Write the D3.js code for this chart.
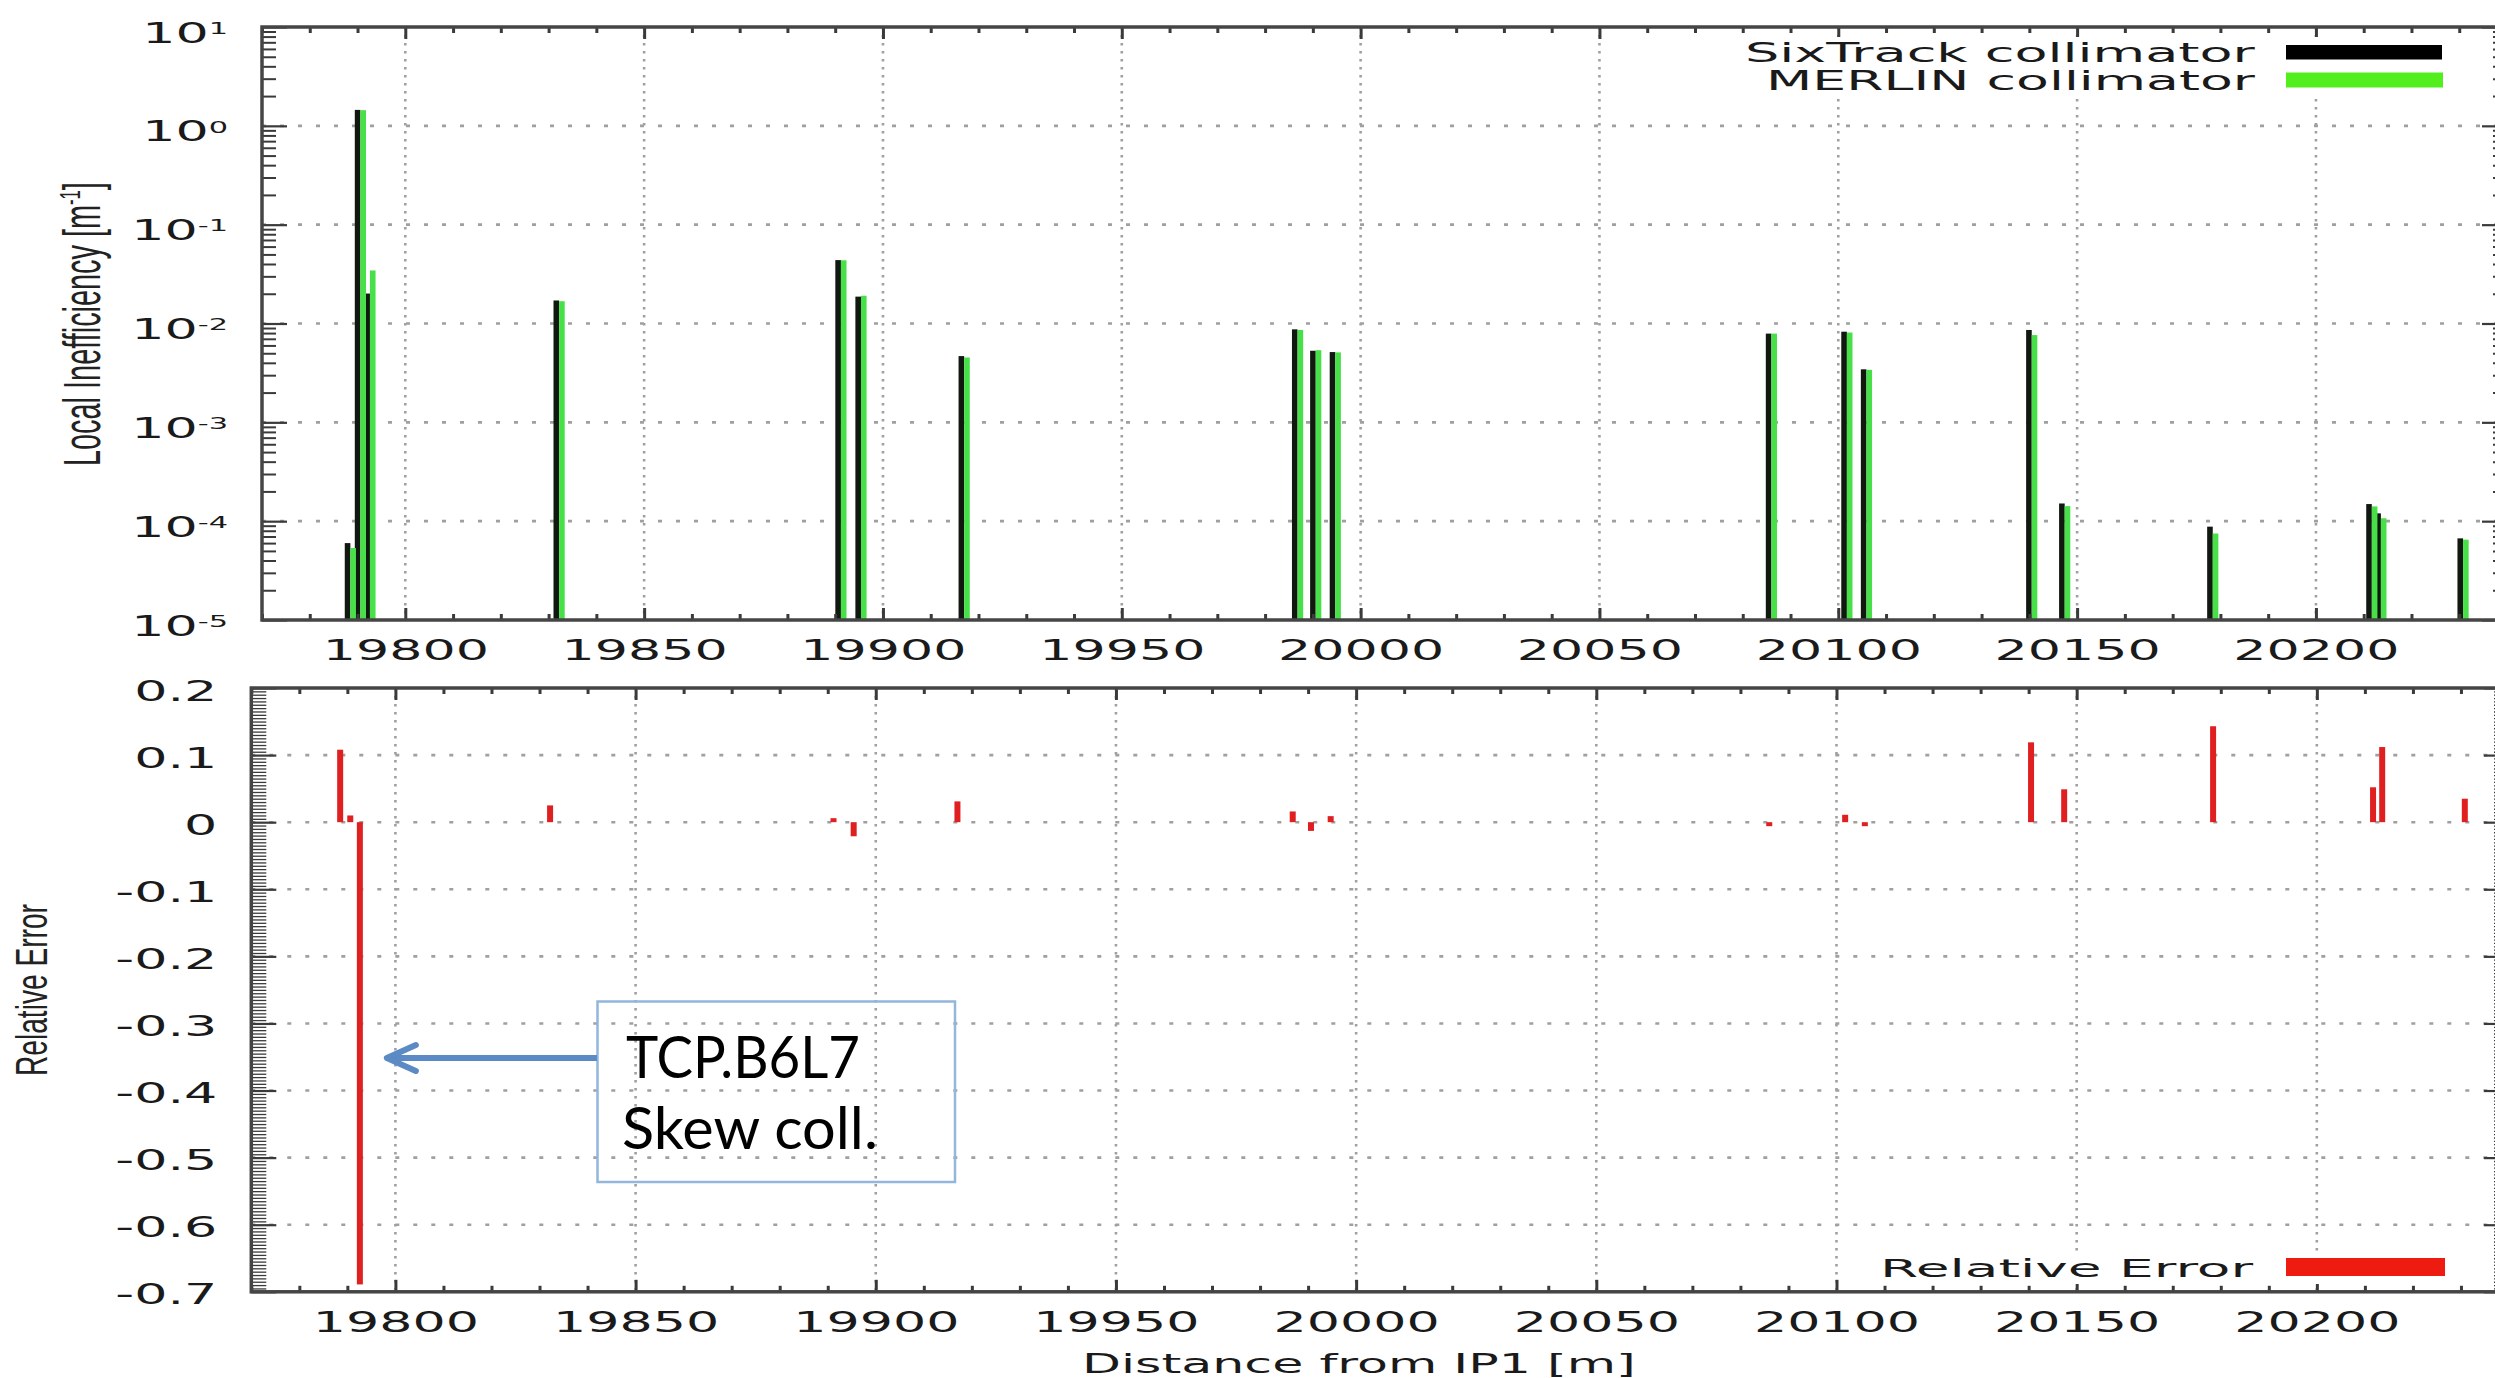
<!DOCTYPE html>
<html><head><meta charset="utf-8">
<script src="https://cdn.jsdelivr.net/npm/d3@7"></script>
<style>body{margin:0;background:#fff}svg{display:block}</style>
</head><body>
<svg id="c" width="2495" height="1378"></svg>
<script>
// ---------------- data ----------------
const positions = [19788.5, 19790.6, 19792.6, 19832.2, 19891.2, 19895.4, 19917.0, 19986.8, 19990.6, 19994.7, 20086.0, 20101.8, 20105.9, 20140.5, 20147.4, 20178.4, 20211.7, 20213.6, 20230.8];
const sixtrack  = [6.0e-5, 1.45, 0.0201, 0.0171, 0.0438, 0.0187, 0.00468, 0.00873, 0.0053, 0.00514, 0.0079, 0.00826, 0.00344, 0.0086, 1.51e-4, 8.8e-5, 1.49e-4, 1.2e-4, 6.7e-5];
const merlin    = [5.35e-5, 1.44, 0.0344, 0.0168, 0.0436, 0.0191, 0.00453, 0.0086, 0.00537, 0.0051, 0.0079, 0.0081, 0.0034, 0.00764, 1.42e-4, 7.5e-5, 1.41e-4, 1.07e-4, 6.5e-5];
const relError  = [0.108, 0.010, -0.689, 0.025, 0.004, -0.021, 0.031, 0.016, -0.013, 0.009, -0.003, 0.011, -0.003, 0.119, 0.049, 0.143, 0.052, 0.112, 0.035];

const xDomain = [19770, 20240];
const xTicks = [19800, 19850, 19900, 19950, 20000, 20050, 20100, 20150, 20200];
const xTickLabels = ["19800", "19850", "19900", "19950", "20000", "20050", "20100", "20150", "20200"];
const topYTicks = [1e-5, 1e-4, 1e-3, 1e-2, 1e-1, 1, 10];
const topYTickBase = "10";
const topYTickExp = ["-5", "-4", "-3", "-2", "-1", "0", "1"];
const botYTicks = [0.2, 0.1, 0, -0.1, -0.2, -0.3, -0.4, -0.5, -0.6, -0.7];
const botYTickLabels = ["0.2", "0.1", "0", "-0.1", "-0.2", "-0.3", "-0.4", "-0.5", "-0.6", "-0.7"];
const seriesNames = ["SixTrack collimator", "MERLIN collimator"];
const errName = "Relative Error";
const xTitle = "Distance from IP1 [m]";
const yTitleTop = ["Local Inefficiency [m", "-1", "]"];
const yTitleBot = "Relative Error";
const noteLines = ["TCP.B6L7", "Skew coll."];

// ---------------- setup ----------------
const svg = d3.select("#c");
svg.append("rect").attr("width", 2495).attr("height", 1378).attr("fill", "#fff");
const FONT = "'DejaVu Sans', sans-serif";
const K = 1.9;          // horizontal stretch of the plot's text
const TFS = 27.5;       // tick label font size
const GRID = "#a0a0a0";
const AX = "#3a3a3a";

const xT = d3.scaleLinear().domain(xDomain).range([262, 2507]);
const yT = d3.scaleLog().domain([1e-5, 10]).range([620, 27]);
const xB = d3.scaleLinear().domain(xDomain).range([251.3, 2509]);
const yB = d3.scaleLinear().domain([-0.7, 0.2]).range([1291.8, 688]);

const xMinor = d3.range(xDomain[0], xDomain[1] + 1, 10).filter(v => v % 50 !== 0);
const topYMinor = [];
for (let e = -5; e < 1; e++) for (let m = 2; m <= 9; m++) topYMinor.push(m * Math.pow(10, e));
const botYMinor = d3.range(-140, 41).map(i => i * 0.005).filter(v => Math.abs(Math.round(v * 10) - v * 10) > 1e-6);

function grid(x, y, yVals) {
  const [x0, x1] = x.range();
  const [yb, yt] = y.range();
  const g = svg.append("g");
  g.selectAll(null).data(xTicks).join("line")
    .attr("x1", d => x(d)).attr("x2", d => x(d)).attr("y1", yt).attr("y2", yb)
    .attr("stroke", GRID).attr("stroke-width", 2.6).attr("stroke-dasharray", "2.5,5.5");
  g.selectAll(null).data(yVals).join("line")
    .attr("x1", x0).attr("x2", x1).attr("y1", d => y(d)).attr("y2", d => y(d))
    .attr("stroke", GRID).attr("stroke-width", 2.6).attr("stroke-dasharray", "4,14");
}

function styleAxis(g, sw) {
  g.select(".domain").remove();
  g.attr("font-family", FONT).attr("font-size", TFS);
  g.selectAll(".tick line").attr("stroke", AX).attr("stroke-width", sw);
  g.selectAll(".tick text").attr("fill", "#1a1a1a");
}

function xAxes(x, yBot, yTop) {
  const a = svg.append("g").attr("transform", `translate(0,${yBot})`)
    .call(d3.axisBottom(x).tickValues(xTicks).tickSize(-12).tickPadding(20.5).tickFormat((d, i) => xTickLabels[i]));
  styleAxis(a, 3);
  a.selectAll(".tick text").attr("transform", `scale(${K},1)`);
  styleAxis(svg.append("g").attr("transform", `translate(0,${yBot})`)
    .call(d3.axisBottom(x).tickValues(xMinor).tickSize(-6).tickFormat("")), 3);
  styleAxis(svg.append("g").attr("transform", `translate(0,${yTop})`)
    .call(d3.axisTop(x).tickValues(xTicks).tickSize(-12).tickFormat("")), 3);
  styleAxis(svg.append("g").attr("transform", `translate(0,${yTop})`)
    .call(d3.axisTop(x).tickValues(xMinor).tickSize(-6).tickFormat("")), 3);
}

function yAxes(y, xl, xr, major, minor, minorLen, labelFn, minorW) {
  const a = svg.append("g").attr("transform", `translate(${xl},0)`)
    .call(d3.axisLeft(y).tickValues(major).tickSize(-25).tickPadding(34 / K).tickFormat(""));
  styleAxis(a, 2.2);
  a.selectAll(".tick text").each(function (d, i) { labelFn(d3.select(this), i); });
  styleAxis(svg.append("g").attr("transform", `translate(${xl},0)`)
    .call(d3.axisLeft(y).tickValues(minor).tickSize(-minorLen).tickFormat("")), minorW);
  styleAxis(svg.append("g").attr("transform", `translate(${xr},0)`)
    .call(d3.axisRight(y).tickValues(major).tickSize(-25).tickFormat("")), 2.2);
  styleAxis(svg.append("g").attr("transform", `translate(${xr},0)`)
    .call(d3.axisRight(y).tickValues(minor).tickSize(-minorLen).tickFormat("")), minorW);
}

function border(x, y) {
  const [x0, x1] = x.range(), [yb, yt] = y.range();
  svg.append("rect").attr("x", x0).attr("y", yt).attr("width", x1 - x0).attr("height", yb - yt)
    .attr("fill", "none").attr("stroke", "#454545").attr("stroke-width", 3.5);
}

// text fitted to a given width (segments: strings or {t,size,dy})
function fitText(parent, segs, o) {
  const g = parent.append("g").attr("transform", `translate(${o.x},${o.y}) rotate(${o.rotate || 0})`);
  const inner = g.append("g");
  const t = inner.append("text").attr("font-family", o.family || FONT).attr("font-size", o.size).attr("fill", o.fill || "#1a1a1a");
  (Array.isArray(segs) ? segs : [segs]).forEach(s => {
    if (typeof s === "string") t.append("tspan").text(s);
    else t.append("tspan").attr("font-size", s.size).attr("dy", s.dy).text(s.t);
  });
  const w = t.node().getComputedTextLength();
  const s = o.width / w;
  inner.attr("transform", `scale(${s},1)`);
  const anchor = o.anchor || "start";
  t.attr("x", anchor === "middle" ? -w / 2 : anchor === "end" ? -w : 0);
  return g;
}

// ---------------- top panel ----------------
grid(xT, yT, [1e-4, 1e-3, 1e-2, 1e-1, 1]);
const gTop = svg.append("g");
const BW = 5.6;
const yT0 = yT.range()[0];
gTop.selectAll(".six").data(positions).join("rect").attr("class", "six")
  .attr("x", d => xT(d) - BW).attr("width", BW)
  .attr("y", (d, i) => yT(sixtrack[i])).attr("height", (d, i) => yT0 - yT(sixtrack[i]))
  .attr("fill", "#101810");
gTop.selectAll(".mer").data(positions).join("rect").attr("class", "mer")
  .attr("x", d => xT(d)).attr("width", BW)
  .attr("y", (d, i) => yT(merlin[i])).attr("height", (d, i) => yT0 - yT(merlin[i]))
  .attr("fill", "#48e048");
xAxes(xT, 620, 27);
yAxes(yT, 262, 2507, topYTicks, topYMinor, 14, (t, i) => {
  t.attr("transform", `scale(${K},1)`).attr("dy", null).attr("y", 15);
  t.append("tspan").text(topYTickBase);
  t.append("tspan").attr("font-size", 16).attr("dy", -8.7).text(topYTickExp[i]);
}, 2);
border(xT, yT);

// legend top
svg.append("rect").attr("x", 1735).attr("y", 37).attr("width", 720).attr("height", 58).attr("fill", "#fff");
fitText(svg, seriesNames[0], {x: 2255, y: 61.5, width: 510, size: 26, anchor: "end"});
fitText(svg, seriesNames[1], {x: 2255, y: 89.5, width: 489, size: 26, anchor: "end"});
svg.append("rect").attr("x", 2286).attr("y", 45).attr("width", 156).attr("height", 14.5).attr("fill", "#000");
svg.append("rect").attr("x", 2286).attr("y", 72.5).attr("width", 157).attr("height", 15).attr("fill", "#52ee1e");

// ---------------- bottom panel ----------------
grid(xB, yB, [0.1, 0, -0.1, -0.2, -0.3, -0.4, -0.5, -0.6]);
const gBot = svg.append("g");
const RW = 6;
gBot.selectAll("rect").data(positions).join("rect")
  .attr("x", d => xB(d) - RW / 2).attr("width", RW)
  .attr("y", (d, i) => {
    const h = Math.max(Math.abs(yB(relError[i]) - yB(0)), 4);
    return relError[i] >= 0 ? yB(0) - h : yB(0);
  })
  .attr("height", (d, i) => Math.max(Math.abs(yB(relError[i]) - yB(0)), 4))
  .attr("fill", "#e02020");
xAxes(xB, 1291.8, 688);
yAxes(yB, 251.3, 2509, botYTicks, botYMinor, 15, (t, i) => {
  t.attr("transform", `scale(${K},1)`).attr("dy", null).attr("y", 12).text(botYTickLabels[i]);
}, 1.3);
border(xB, yB);

// legend bottom
svg.append("rect").attr("x", 1870).attr("y", 1251).attr("width", 585).attr("height", 33).attr("fill", "#fff");
fitText(svg, errName, {x: 2253, y: 1276.5, width: 373, size: 25.6, anchor: "end"});
svg.append("rect").attr("x", 2286).attr("y", 1258).attr("width", 159).attr("height", 18).attr("fill", "#ee1c10");

// ---------------- titles ----------------
fitText(svg, xTitle, {x: 1359, y: 1372.5, width: 554, size: 26, anchor: "middle"});
fitText(svg, [yTitleTop[0], {t: yTitleTop[1], size: 30, dy: -20}, {t: yTitleTop[2], size: 52, dy: 20}],
  {x: 100, y: 324, width: 284, size: 52, anchor: "middle", rotate: -90, family: "'Liberation Sans', sans-serif", fill: "#222"});
fitText(svg, yTitleBot, {x: 47, y: 990, width: 172, size: 44, anchor: "middle", rotate: -90, family: "'Liberation Sans', sans-serif", fill: "#222"});

// ---------------- annotation ----------------
const target = positions[2];
const tipX = xB(target) + 27;
const ay = 1058;
svg.append("rect").attr("x", 597.5).attr("y", 1001.5).attr("width", 357.5).attr("height", 180.5)
  .attr("fill", "none").attr("stroke", "#93b6dc").attr("stroke-width", 2.5);
svg.append("line").attr("x1", 597).attr("x2", tipX + 3).attr("y1", ay).attr("y2", ay)
  .attr("stroke", "#5b8ac4").attr("stroke-width", 6);
svg.append("path").attr("d", `M${tipX + 29},${ay - 13} L${tipX},${ay} L${tipX + 29},${ay + 13}`)
  .attr("fill", "none").attr("stroke", "#5b8ac4").attr("stroke-width", 6)
  .attr("stroke-linecap", "round").attr("stroke-linejoin", "round");
fitText(svg, noteLines[0], {x: 626, y: 1078, width: 234, size: 58, family: "Lato, sans-serif", fill: "#000"});
fitText(svg, noteLines[1], {x: 622, y: 1149, width: 256, size: 58, family: "Lato, sans-serif", fill: "#000"});
</script>
</body></html>
